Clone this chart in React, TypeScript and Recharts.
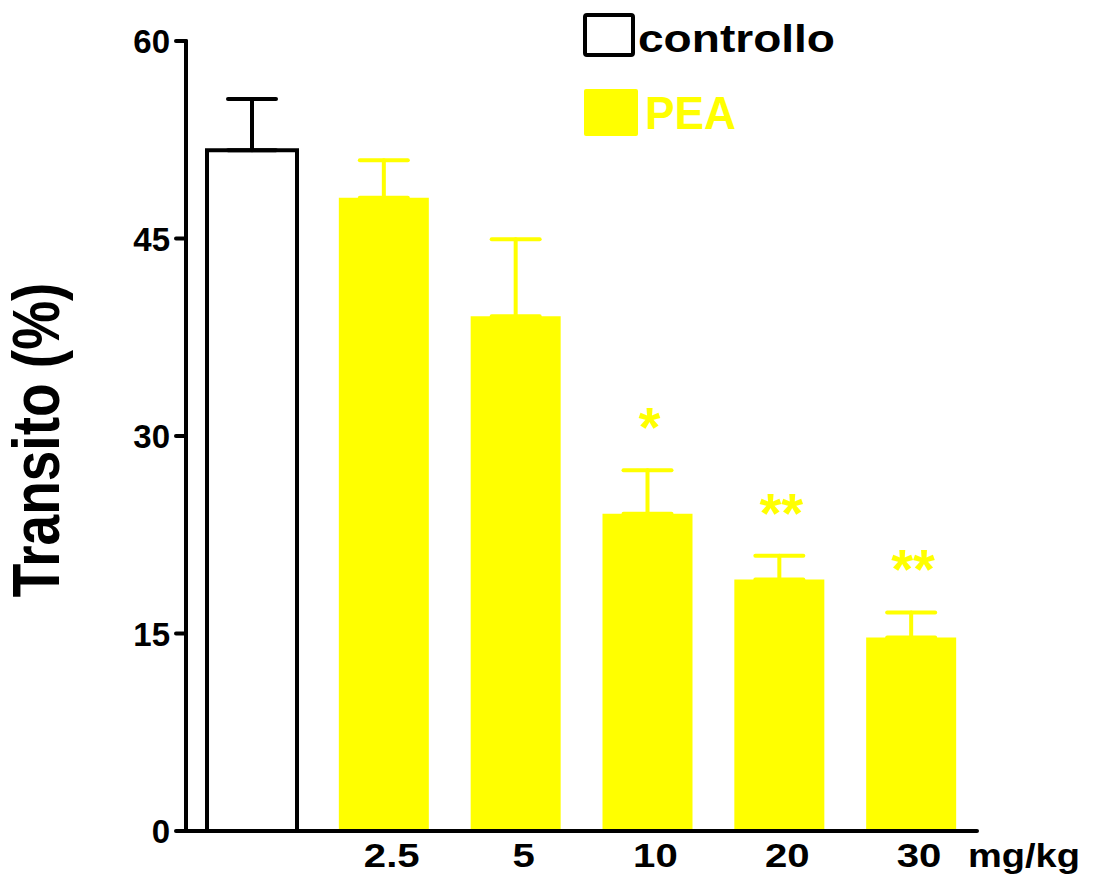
import React from "react";
import {
  ComposedChart, Bar, Scatter, ErrorBar, XAxis, YAxis, Legend, Label,
} from "recharts";

// dose groups (first slot = control group, no dose label)
const doses = ["", "2.5", "5", "10", "20", "30"];
const controlMean = [51.7, null, null, null, null, null];
const controlSem = [3.9, null, null, null, null, null];
const peaMean = [null, 48.1, 39.1, 24.1, 19.1, 14.7];
const peaSem = [null, 2.85, 5.85, 3.3, 1.8, 1.9];
const stars = ["", "", "", "*", "**", "**"];
const yTicks = [0, 15, 30, 45, 60];

const seriesNames = ["controllo", "PEA"];
const YELLOW = "#ffff00";
const FONT = "'Liberation Sans', Arial, sans-serif";

const data = doses.map((d, i) => ({
  dose: d,
  controllo: controlMean[i],
  pea: peaMean[i],
  controlErr: controlSem[i] == null ? null : [0, controlSem[i]],
  peaErr: peaSem[i] == null ? null : [0, peaSem[i]],
  star: stars[i],
  starAt: stars[i] ? (peaMean[i] as number) + (peaSem[i] as number) : null,
}));

// rough Arial-bold advance widths, used to stretch the text a bit like the original
function textW(s: string, size: number) {
  let w = 0;
  for (const ch of s) w += ch === "." ? 0.278 : 0.556;
  return w * size;
}

function XTick(props: any) {
  const { x, y, payload } = props;
  const s = String(payload.value);
  if (!s) return <g />;
  return (
    <text x={x + 8} y={y + 36} textAnchor="middle" fontSize={34} fontWeight="bold"
      fontFamily={FONT} fill="#000" textLength={textW(s, 34) * 1.18} lengthAdjust="spacingAndGlyphs">
      {s}
    </text>
  );
}

function YTick(props: any) {
  const { x, y, payload } = props;
  return (
    <text x={x} y={y + 12} textAnchor="end" fontSize={33} fontWeight="bold" fontFamily={FONT} fill="#000">
      {payload.value}
    </text>
  );
}

function StarShape(props: any) {
  const { cx, cy, payload } = props;
  if (!payload || !payload.star || cy == null || isNaN(cy)) return <g />;
  return (
    <text x={cx + 2} y={cy - 24} textAnchor="middle" fontSize={56} fontWeight="bold" fontFamily={FONT} fill={YELLOW}>
      {payload.star}
    </text>
  );
}

function LegendBox() {
  return (
    <svg width={300} height={140} style={{ display: "block" }}>
      <rect x={7} y={15} width={48} height={40} rx={2} fill="#fff" stroke="#000" strokeWidth={4} />
      <text x={60} y={52} fontSize={38} fontWeight="bold" fontFamily={FONT} fill="#000"
        textLength={197} lengthAdjust="spacingAndGlyphs">{seriesNames[0]}</text>
      <rect x={6} y={89} width={54} height={47} rx={2} fill={YELLOW} />
      <text x={67} y={129} fontSize={47} fontWeight="bold" fontFamily={FONT} fill={YELLOW}
        textLength={91} lengthAdjust="spacingAndGlyphs">{seriesNames[1]}</text>
    </svg>
  );
}

function YTitle() {
  return (
    <g transform="translate(59,440) scale(1.2,1) rotate(-90)">
      <text x={0} y={0} textAnchor="middle" fontSize={55} fontWeight="bold" fontFamily={FONT} fill="#000">
        Transito (%)
      </text>
    </g>
  );
}

function UnitLabel(props: any) {
  const vb = props.viewBox || {};
  return (
    <text x={vb.x + vb.width - 9} y={vb.y + 36} fontSize={34} fontWeight="bold" fontFamily={FONT} fill="#000"
      textLength={112} lengthAdjust="spacingAndGlyphs">
      mg/kg
    </text>
  );
}

export default function App() {
  return (
    <div style={{ position: "absolute", left: 0, top: 0, background: "#fff" }}>
      <ComposedChart width={1097} height={886} data={data}
        margin={{ top: 41, right: 120, bottom: 0, left: 0 }}
        barSize={90} barGap={-90}>
        <XAxis dataKey="dose" type="category" height={55} tickLine={false} tickSize={0} tickMargin={0}
          axisLine={{ stroke: "#000", strokeWidth: 4, strokeLinecap: "round" }} tick={<XTick />} interval={0}>
          <Label content={<UnitLabel />} />
        </XAxis>
        <YAxis width={186} domain={[0, 60]} ticks={yTicks} tickSize={10} tickMargin={6}
          axisLine={{ stroke: "#000", strokeWidth: 4, strokeLinecap: "round" }}
          tickLine={{ stroke: "#000", strokeWidth: 4, strokeLinecap: "round" }} tick={<YTick />}>
          <Label content={<YTitle />} />
        </YAxis>
        <Legend layout="horizontal" verticalAlign="middle" align="center"
          wrapperStyle={{ top: 0, left: 578, width: 300 }} content={() => <LegendBox />} />
        <Bar dataKey="controllo" name={seriesNames[0]} fill="#fff" stroke="#000" strokeWidth={4}
          isAnimationActive={false}>
          <ErrorBar dataKey="controlErr" direction="y" width={24} stroke="#000" strokeWidth={4}
            strokeLinecap="round" isAnimationActive={false} />
        </Bar>
        <Bar dataKey="pea" name={seriesNames[1]} fill={YELLOW} isAnimationActive={false}>
          <ErrorBar dataKey="peaErr" direction="y" width={24} stroke={YELLOW} strokeWidth={4}
            strokeLinecap="round" isAnimationActive={false} />
        </Bar>
        <Scatter dataKey="starAt" shape={<StarShape />} legendType="none" isAnimationActive={false} />
      </ComposedChart>
    </div>
  );
}
